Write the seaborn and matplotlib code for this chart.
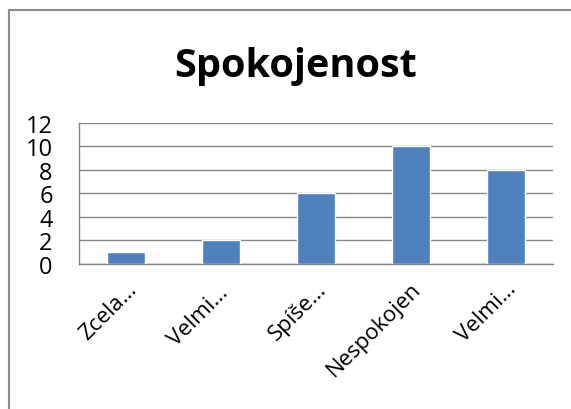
import pandas as pd
import matplotlib.pyplot as plt
import seaborn as sns
import numpy as np
from matplotlib.patches import Rectangle

# Data
categories = ["Zcela\u2026", "Velmi\u2026 ", "Spíše\u2026", "Nespokojen", "Velmi\u2026"]
values = [1, 2, 6, 10, 8]

df = pd.DataFrame({"kategorie": categories, "pocet": values})

sns.set_style("white")
plt.rcParams['font.family'] = ['Open Sans', 'DejaVu Sans']
plt.rcParams['text.color'] = 'black'

fig = plt.figure(figsize=(5.71, 4.10), dpi=100)
ax = fig.add_axes([0.1384, 0.3537, 0.8301, 0.3439])

sns.barplot(x="kategorie", y="pocet", data=df, color="#4F81BD", width=0.4,
            saturation=1, ax=ax, zorder=3)

grid_col = "#868686"
ax.set_ylim(0, 12)
ax.set_yticks(range(0, 13, 2))
ax.set_xlim(-0.5, len(categories) - 0.5)
ax.yaxis.grid(True, color=grid_col, linewidth=1, zorder=0)
ax.set_xlabel("")
ax.set_ylabel("")

for s in ["top", "right"]:
    ax.spines[s].set_visible(False)
for s in ["left", "bottom"]:
    ax.spines[s].set_color(grid_col)
    ax.spines[s].set_linewidth(1)

# category boundaries as tick marks, labels centred
ax.set_xticks(np.arange(-0.5, len(categories)), minor=True)
ax.tick_params(axis="x", which="minor", length=7, color=grid_col, width=1, direction="out")
ax.tick_params(axis="x", which="major", length=0, pad=10)
ax.tick_params(axis="y", length=7, color=grid_col, labelcolor="black", width=1,
               direction="out", pad=12, labelsize=17)
ax.set_xticklabels(categories, rotation=45, ha="right", rotation_mode="anchor",
                   fontsize=16, color="black")

fig.text(0.518, 0.812, "Spokojenost", ha="center", va="baseline", fontsize=28.5,
         fontweight="bold", color="black")

# chart frame
fig.patches.append(Rectangle((9 / 571, -0.1), 1.2, 0.1 + 1 - 11 / 410, transform=fig.transFigure,
                             fill=False, edgecolor="#8c8c8c", linewidth=1.5))

fig.savefig("out.png", dpi=100)
